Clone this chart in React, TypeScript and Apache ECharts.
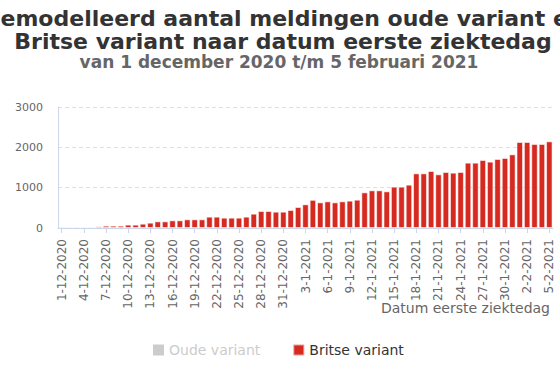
import React, { useEffect, useRef } from "react";
import * as echarts from "echarts";

const titleText = "Gemodelleerd aantal meldingen oude variant en\nBritse variant naar datum eerste ziektedag";
const subtitleText = "van 1 december 2020 t/m 5 februari 2021";
const xAxisName = "Datum eerste ziektedag";
const seriesNames = ["Oude variant", "Britse variant"];

function buildDates(): string[] {
  const out: string[] = [];
  for (let d = 1; d <= 31; d++) out.push(`${d}-12-2020`);
  for (let d = 1; d <= 31; d++) out.push(`${d}-1-2021`);
  for (let d = 1; d <= 5; d++) out.push(`${d}-2-2021`);
  return out;
}
const categories = buildDates();

// Oude variant is hidden in the reference (legend item switched off)
const oudeVariant: (number | null)[] = [];

const britseVariant = [
  30, 30, 30, 30, 30, 40, 58, 58, 58, 83,
  83, 107, 132, 165, 165, 190, 190, 215, 215, 215,
  281, 281, 256, 256, 256, 281, 355, 421, 421, 405,
  405, 446, 520, 587, 698, 636, 661, 636, 661, 678,
  702, 884, 934, 934, 909, 1025, 1025, 1074, 1355, 1355,
  1413, 1331, 1388, 1372, 1388, 1620, 1620, 1686, 1645, 1711,
  1736, 1826, 2132, 2132, 2083, 2083, 2149,
];

const FONT = "DejaVu Sans";

export default function App() {
  const ref = useRef<HTMLDivElement>(null);
  useEffect(() => {
    if (!ref.current) return;
    const chart = echarts.init(ref.current, undefined, { renderer: "svg" });
    chart.setOption({
      animation: false,
      textStyle: { fontFamily: FONT },
      title: [
        {
          text: titleText,
          left: 283,
          textAlign: "center",
          top: 7,
          padding: 0,
          textStyle: { fontFamily: FONT, fontSize: 22, fontWeight: "bold", color: "#333333", lineHeight: 23 },
        },
        {
          text: subtitleText,
          left: 279,
          textAlign: "center",
          top: 54,
          padding: 0,
          textStyle: { fontFamily: FONT, fontSize: 17, fontWeight: "bold", color: "#666666", lineHeight: 16 },
        },
      ],
      graphic: [
        {
          type: "text",
          right: 10,
          top: 301,
          style: { text: xAxisName, fontFamily: FONT, fontSize: 14, fill: "#666666" },
        },
      ],
      legend: {
        bottom: 16,
        left: 153,
        padding: 0,
        icon: "rect",
        itemWidth: 11,
        itemHeight: 11,
        itemGap: 32,
        selected: { "Oude variant": false, "Britse variant": true },
        inactiveColor: "#cccccc",
        textStyle: { fontFamily: FONT, fontSize: 14, color: "#333333" },
        data: seriesNames,
      },
      grid: { left: 58, right: 7, top: 107, bottom: 145, outerBoundsMode: "none", containLabel: false },
      xAxis: {
        type: "category",
        data: categories,
        axisLine: { lineStyle: { color: "#ccd6eb" } },
        axisTick: { show: true, interval: 2, alignWithLabel: true, length: 5, lineStyle: { color: "#ccd6eb" } },
        axisLabel: { interval: 2, rotate: 90, fontSize: 12, color: "#666666", fontFamily: FONT, margin: 11 },
      },
      yAxis: {
        type: "value",
        min: 0,
        max: 3000,
        interval: 1000,
        axisLine: { show: true, lineStyle: { color: "#ccd6eb" } },
        axisTick: { show: false },
        axisLabel: { fontSize: 11, color: "#666666", fontFamily: FONT, margin: 15, formatter: (v: number) => String(v) },
        splitLine: { lineStyle: { color: "#d6def0", type: [4, 3] } },
      },
      series: [
        {
          name: seriesNames[0],
          type: "bar",
          stack: "total",
          data: oudeVariant,
          itemStyle: { color: "#aaaaaa" },
        },
        {
          name: seriesNames[1],
          type: "bar",
          stack: "total",
          data: britseVariant,
          barCategoryGap: "12%",
          itemStyle: { color: "#d62a20", borderColor: "rgba(255,255,255,0.55)", borderWidth: 1 },
        },
      ],
    });
    return () => chart.dispose();
  }, []);
  return <div ref={ref} style={{ width: 560, height: 373, position: "absolute", left: 0, top: 0 }} />;
}
